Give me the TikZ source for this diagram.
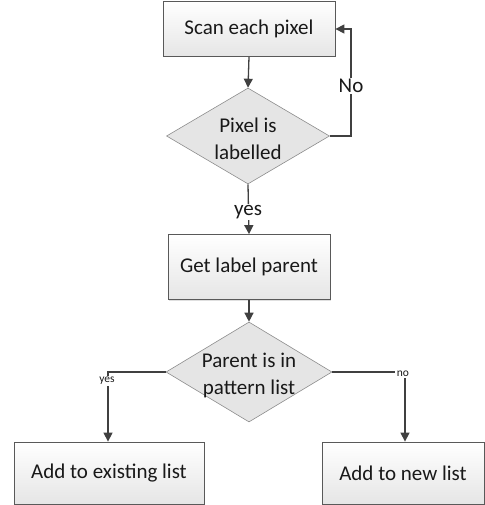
\documentclass[tikz,border=0pt]{standalone}
\usepackage{fontspec}
\setmainfont{Carlito}
\usetikzlibrary{shapes.geometric,arrows.meta,shadows}
\begin{document}
\begin{tikzpicture}[x=1pt,y=-1pt,
  every node/.style={font=\fontsize{21}{27}\selectfont, text=black!90},
  procbox/.style={draw=black!65, line width=0.8pt, top color=white, bottom color=black!10, inner sep=0pt, drop shadow={shadow xshift=1pt,shadow yshift=-1pt,opacity=0.25}},
  decbox/.style={draw=black!45, line width=0.6pt, fill=black!10, diamond, inner sep=0pt, align=center},
  conn/.style={draw=black!75, line width=1.3pt},
  arr/.style={conn, -{Triangle[length=9pt,width=9pt]}},
  lbl/.style={fill=white, inner sep=1pt},
  small/.style={fill=white, inner sep=1.5pt, font=\fontsize{11.5}{13}\selectfont}
]
\useasboundingbox (0,0) rectangle (484,505);
% boxes
\node[procbox, minimum width=172pt, minimum height=55pt] (scan) at (249,29) {Scan each pixel};
\node[decbox, minimum width=163pt, minimum height=96pt, aspect=1.7] (lab) at (248,136) {};
\node[align=center] at (248,139) {Pixel is\\labelled};
\node[procbox, minimum width=162pt, minimum height=65pt] (get) at (249,267) {Get label parent};
\node[decbox, minimum width=166pt, minimum height=100pt, aspect=1.66] (par) at (249,372) {};
\node[align=center] at (249,375) {Parent is in\\pattern list};
\node[procbox, minimum width=190pt, minimum height=62pt] (exist) at (109,473) {Add to existing list};
\node[procbox, minimum width=162pt, minimum height=62pt] (new) at (403,473) {Add to new list};
% connectors
\draw[arr] (scan.south) -- (lab.north);
\coordinate (c1) at (351,136);
\coordinate (c2) at (351,29);
\draw[arr] (lab.east) -- (c1) -- (c2) -- (scan.east);
\node[lbl] at (351,86) {No};
\draw[arr] (lab.south) -- (get.north);
\node[lbl] at (248,212) {yes};
\draw[arr] (get.south) -- (par.north);
% bottom branches
\coordinate (l1) at (108,372);
\coordinate (r1) at (405,372);
\draw[arr] (par.west) -- (l1) -- (exist.north -| l1);
\node[small, inner xsep=2pt] at (107,381) {yes};
\draw[arr] (par.east) -- (r1) -- (new.north -| r1);
\node[small] at (403,374) {no};
\end{tikzpicture}
\end{document}
